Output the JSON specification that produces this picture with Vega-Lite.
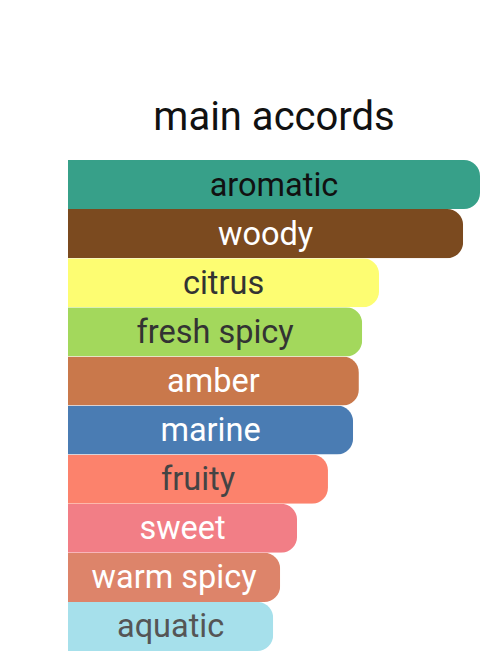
{
  "$schema": "https://vega.github.io/schema/vega-lite/v6.json",
  "autosize": "none",
  "width": 412,
  "height": 491,
  "padding": {"left": 68, "top": 160, "right": 20, "bottom": 7},
  "background": "white",
  "config": {"view": {"stroke": null}, "font": "Roboto"},
  "title": {
    "text": "main accords",
    "fontSize": 40,
    "fontWeight": "normal",
    "color": "#111111",
    "anchor": "middle",
    "offset": 22
  },
  "data": {
    "values": [
      {"accord": "aromatic", "value": 100},
      {"accord": "woody", "value": 95.9},
      {"accord": "citrus", "value": 75.5},
      {"accord": "fresh spicy", "value": 71.4},
      {"accord": "amber", "value": 70.6},
      {"accord": "marine", "value": 69.2},
      {"accord": "fruity", "value": 63.1},
      {"accord": "sweet", "value": 55.6},
      {"accord": "warm spicy", "value": 51.5},
      {"accord": "aquatic", "value": 49.8}
    ]
  },
  "encoding": {
    "y": {
      "field": "accord",
      "type": "nominal",
      "sort": null,
      "axis": null,
      "scale": {"paddingInner": 0, "paddingOuter": 0}
    }
  },
  "layer": [
    {
      "mark": {"type": "bar", "cornerRadiusEnd": 16},
      "encoding": {
        "x": {
          "field": "value",
          "type": "quantitative",
          "axis": null,
          "scale": {"domain": [0, 100], "nice": false}
        },
        "color": {
          "field": "accord",
          "type": "nominal",
          "legend": null,
          "scale": {
            "domain": ["aromatic", "woody", "citrus", "fresh spicy", "amber", "marine", "fruity", "sweet", "warm spicy", "aquatic"],
            "range": ["#37a089", "#7b4a1f", "#fdfd72", "#a3d85c", "#c9784b", "#4a7cb3", "#fc826c", "#f27e86", "#dd846a", "#a6e0eb"]
          }
        }
      }
    },
    {
      "transform": [{"calculate": "datum.value / 2", "as": "mid"}],
      "mark": {"type": "text", "fontSize": 32.5, "align": "center", "baseline": "middle", "dy": 1},
      "encoding": {
        "x": {"field": "mid", "type": "quantitative"},
        "text": {"field": "accord"},
        "color": {
          "field": "accord",
          "type": "nominal",
          "legend": null,
          "scale": {
            "domain": ["aromatic", "woody", "citrus", "fresh spicy", "amber", "marine", "fruity", "sweet", "warm spicy", "aquatic"],
            "range": ["#111111", "#ffffff", "#333333", "#333333", "#ffffff", "#ffffff", "#444444", "#ffffff", "#ffffff", "#555555"]
          }
        }
      }
    }
  ],
  "resolve": {"scale": {"color": "independent"}}
}
